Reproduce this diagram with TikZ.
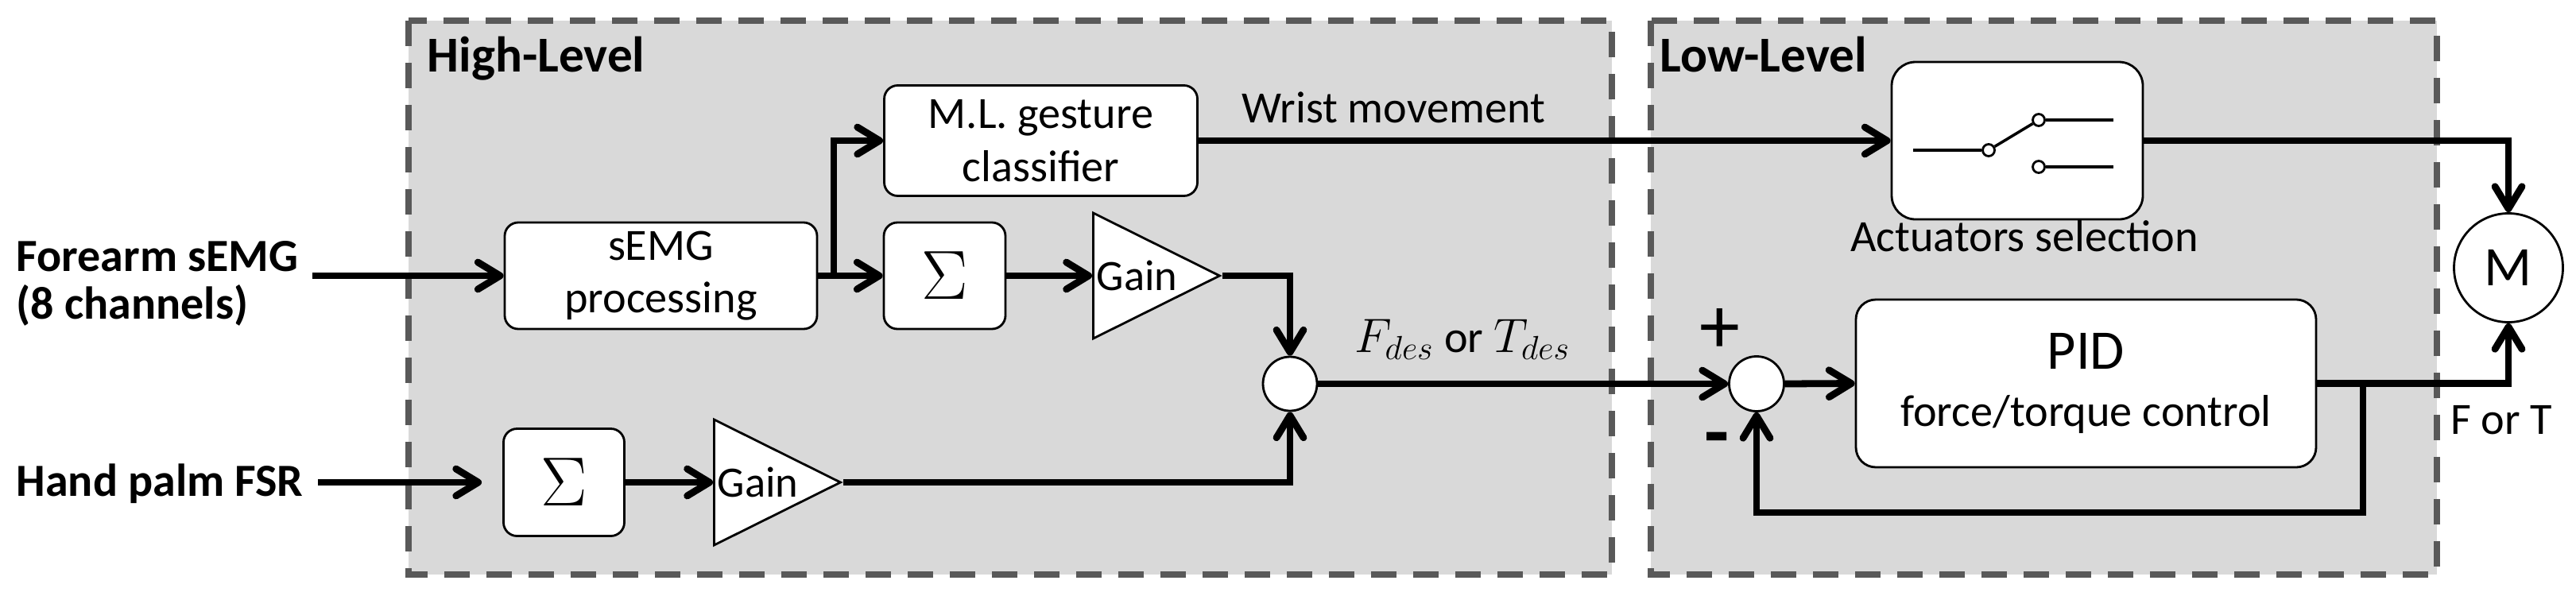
\documentclass[tikz,border=0pt]{standalone}
\usepackage{amsmath}
\usepackage{fontspec}
\setmainfont{Carlito}
\usepackage{tikz}
\usetikzlibrary{shapes.geometric}
\usetikzlibrary{arrows.meta, positioning, calc}
\DeclareMathSizes{16}{16}{13}{10}

\definecolor{panel}{HTML}{D9D9D9}
\definecolor{rim}{HTML}{595959}

\tikzset{
    blk/.style={draw, fill=white, rounded corners=0.17cm, line width=0.8pt, align=center, inner sep=0pt, font=\fontsize{16}{19}\selectfont},
    amp/.style={draw, fill=white, isosceles triangle, isosceles triangle stretches, line width=0.8pt, minimum width=1.58cm, minimum height=1.59cm, inner sep=0pt},
    junc/.style={draw, fill=white, circle, line width=0.8pt, minimum size=0.68cm, inner sep=0pt},
    pin/.style={draw, fill=white, circle, line width=0.8pt, minimum size=0.15cm, inner sep=0pt},
    sig/.style={line width=2.5pt, -{Straight Barb[length=0.28cm, width=0.34cm, round]}},
    wire/.style={line width=2.5pt},
    swl/.style={line width=1pt},
    zone/.style={draw=rim, fill=panel, line width=2.2pt, dash pattern=on 0.32cm off 0.21cm},
    txt/.style={inner sep=0pt, font=\fontsize{16}{19}\selectfont},
}

\begin{document}
\begin{tikzpicture}[x=1cm, y=-1cm]
    \useasboundingbox (0,0) rectangle (32.41,7.44);

    % Frames
    \draw[zone] (5.14,0.26) rectangle (20.28,7.23);
    \draw[zone] (20.77,0.26) rectangle (30.66,7.23);
    \node[txt, anchor=base west, font=\fontsize{18}{20}\selectfont\bfseries] (hltitle) at (5.37,0.90) {High-Level};
    \node[txt, anchor=base west, font=\fontsize{18}{20}\selectfont\bfseries] (lltitle) at (20.88,0.90) {Low-Level};

    % Inputs
    \node[txt, anchor=north west, align=left, font=\fontsize{16.5}{17}\selectfont\bfseries] (emgin) at (0.20,3.03) {Forearm sEMG\\(8 channels)};
    \node[txt, anchor=base west, font=\fontsize{16.5}{18}\selectfont\bfseries] (fsrin) at (0.20,6.24) {Hand palm FSR};
    \coordinate (emg0) at (3.93,3.47);
    \coordinate (fsr0) at (4.00,6.07);

    % High-level nodes
    \node[blk, minimum width=3.93cm, minimum height=1.34cm] (semg) at (8.315,3.47) {sEMG\\processing};
    \node[blk, minimum width=3.94cm, minimum height=1.39cm] (ml) at (13.095,1.77) {M.L. gesture\\classifier};
    \node[blk, minimum width=1.53cm, minimum height=1.34cm, font=\fontsize{24}{24}\selectfont] (sigA) at (11.885,3.47) {$\Sigma$};
    \node[amp, anchor=west, label={[anchor=west, xshift=0.05cm, inner sep=0pt, font=\fontsize{15.5}{18}\selectfont]west:Gain}] (gainA) at (13.74,3.47) {};
    \node[blk, minimum width=1.52cm, minimum height=1.35cm, font=\fontsize{24}{24}\selectfont] (sigB) at (7.095,6.07) {$\Sigma$};
    \node[amp, anchor=west, label={[anchor=west, xshift=0.05cm, inner sep=0pt, font=\fontsize{15.5}{18}\selectfont]west:Gain}] (gainB) at (8.97,6.07) {};
    \node[junc] (sumA) at (16.23,4.83) {};
    \coordinate (fork) at (10.49,3.47);
    \node[txt, anchor=base] (wrist) at (17.53,1.54) {Wrist movement};
    \node[txt, anchor=base, font=\fontsize{16}{19}\selectfont] (fdes) at (18.40,4.43) {$F_{des}$ or $T_{des}$};

    % Low-level nodes
    \node[blk, rounded corners=0.3cm, minimum width=3.16cm, minimum height=1.98cm] (act) at (25.38,1.77) {};
    \node[txt, anchor=base] (actlbl) at (25.47,3.16) {Actuators selection};
    \node[pin] (p0) at (25.02,1.89) {};
    \node[pin] (p1) at (25.65,1.51) {};
    \node[pin] (p2) at (25.65,2.10) {};
    \coordinate (sw0) at (24.07,1.89);
    \coordinate (sw1) at (26.59,1.51);
    \coordinate (sw2) at (26.59,2.10);
    \node[junc, minimum size=0.69cm] (sumB) at (22.10,4.83) {};
    \node[inner sep=0pt, font=\fontsize{29}{29}\selectfont] (plus) at (21.64,4.16) {+};
    \node[inner sep=0pt, font=\fontsize{29}{29}\selectfont\bfseries] (minus) at (21.60,5.61) {-};
    \node[blk, rounded corners=0.25cm, minimum width=5.79cm, minimum height=2.11cm, font=\fontsize{16}{20.5}\selectfont] (pid) at (26.245,4.825) {{\fontsize{20}{24}\selectfont PID}\\force/torque control};
    \node[draw, circle, fill=white, line width=0.8pt, minimum size=1.37cm, inner sep=0pt, font=\fontsize{20}{24}\selectfont] (mot) at (31.56,3.37) {M};
    \node[txt, anchor=base] (fort) at (31.47,5.46) {F or T};
    \coordinate (tap) at (29.73,4.83);
    \coordinate (fbk) at (29.73,6.45);

    % Edges
    \draw[sig] (emg0) -- (semg.west);
    \draw[wire] (semg.east) -- (fork);
    \draw[sig] (fork) -- (sigA.west);
    \draw[sig] (fork) |- (ml.west);
    \draw[sig] (sigA.east) -- (gainA.west);
    \draw[sig] (gainA.apex) -| (sumA.north);
    \draw[sig, shorten >=0.26cm] (fsr0) -- (sigB.west);
    \draw[sig] (sigB.east) -- (gainB.west);
    \draw[sig] (gainB.apex) -| (sumA.south);
    \draw[sig] (sumA.east) -- (sumB.west);
    \draw[sig] (ml.east) -- (act.west);
    \draw[sig] (act.east) -| (mot.north);
    \draw[sig] (sumB.east) -- (pid.west);
    \draw[sig] (pid.east) -| (mot.south);
    \draw[sig] (tap) -- (fbk) -| (sumB.south);

    % Switch
    \draw[swl] (sw0) -- (p0);
    \draw[swl] (p0) -- (p1);
    \draw[swl] (p1) -- (sw1);
    \draw[swl] (p2) -- (sw2);
\end{tikzpicture}
\end{document}
